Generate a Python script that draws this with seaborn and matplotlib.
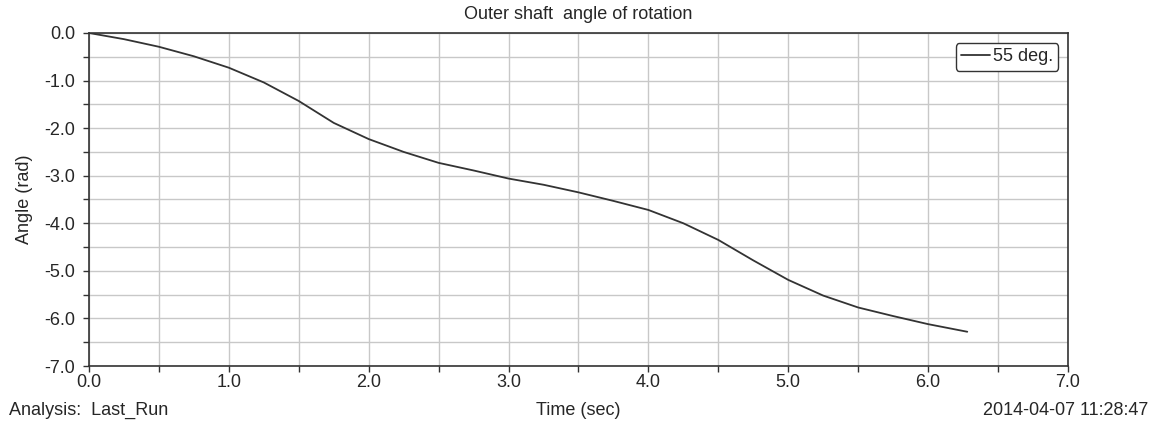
import numpy as np
import pandas as pd
import matplotlib
matplotlib.use("Agg")
import matplotlib.pyplot as plt
from matplotlib.ticker import MultipleLocator, FormatStrFormatter
import seaborn as sns

time_sec = [0.0, 0.25, 0.5, 0.75, 1.0, 1.25, 1.5, 1.75, 2.0, 2.25, 2.5, 2.75,
            3.0, 3.25, 3.5, 3.75, 4.0, 4.25, 4.5, 4.75, 5.0, 5.25, 5.5, 5.75,
            6.0, 6.28]
angle_rad = [0.0, -0.13, -0.29, -0.49, -0.73, -1.04, -1.43, -1.89, -2.23, -2.50,
             -2.73, -2.89, -3.06, -3.19, -3.35, -3.53, -3.72, -4.00, -4.35, -4.78,
             -5.19, -5.52, -5.77, -5.95, -6.12, -6.28]
series_name = "55 deg."

df = pd.DataFrame({"Time (sec)": time_sec, "Angle (rad)": angle_rad})

sns.set_style("whitegrid")
plt.rcParams['font.family'] = ['Liberation Sans', 'DejaVu Sans']

fig = plt.figure(figsize=(11.65, 4.25), dpi=100)
ax = fig.add_axes([0.0764, 0.1388, 0.8403, 0.7836])

sns.lineplot(data=df, x="Time (sec)", y="Angle (rad)", ax=ax, color="#333333",
             linewidth=1.3, label=series_name)

ax.set_xlim(0, 7)
ax.set_ylim(-7, 0)
ax.xaxis.set_major_locator(MultipleLocator(1.0))
ax.xaxis.set_minor_locator(MultipleLocator(0.5))
ax.yaxis.set_major_locator(MultipleLocator(1.0))
ax.yaxis.set_minor_locator(MultipleLocator(0.5))
ax.xaxis.set_major_formatter(FormatStrFormatter("%.1f"))
ax.yaxis.set_major_formatter(FormatStrFormatter("%.1f"))
ax.grid(which="both", color="#c8c8c8", linewidth=1.0)
ax.tick_params(which="both", direction="out", length=4, width=1, color="#333333",
               labelsize=13, left=True, bottom=True)
ax.tick_params(axis="y", pad=6)
ax.tick_params(axis="x", pad=2)
for s in ax.spines.values():
    s.set_color("#333333")
    s.set_linewidth(1.2)

ax.set_xlabel("")
ax.set_ylabel("Angle (rad)", fontsize=13, labelpad=8)
ax.set_title("Outer shaft  angle of rotation", fontsize=13, pad=10)

leg = ax.legend(loc="upper right", bbox_to_anchor=(0.99, 0.97), fontsize=13,
                frameon=True, fancybox=True, handlelength=1.6, handletextpad=0.15,
                borderpad=0.3, borderaxespad=0)
leg.get_frame().set_edgecolor("#333333")
leg.get_frame().set_linewidth(1.0)
leg.get_frame().set_alpha(1)

fig.text(0.496, 0.035, "Time (sec)", ha="center", va="center", fontsize=13)
fig.text(0.008, 0.035, "Analysis:  Last_Run", ha="left", va="center", fontsize=13)
fig.text(0.986, 0.035, "2014-04-07 11:28:47", ha="right", va="center", fontsize=13)

fig.savefig("out.png", dpi=100)
